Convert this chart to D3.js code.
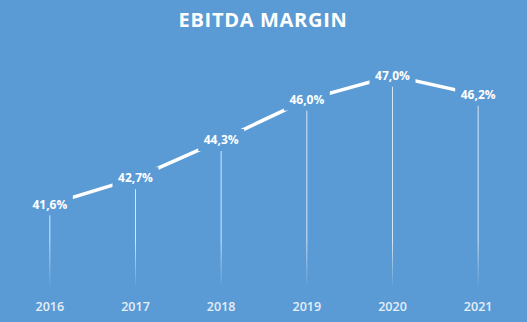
<!DOCTYPE html>
<html><head><meta charset="utf-8">
<script src="https://cdn.jsdelivr.net/npm/d3@7"></script>
<style>html,body{margin:0;padding:0;background:#5B9BD5;}svg{display:block;}</style>
</head><body>
<script>
const years = ["2016","2017","2018","2019","2020","2021"];
const margins = [41.6, 42.7, 44.3, 46.0, 47.0, 46.2];
const title = "EBITDA MARGIN";
const yDomain = [38, 48];

const W = 527, H = 322, bg = "#5B9BD5";
const svg = d3.select("body").append("svg").attr("width", W).attr("height", H);
svg.append("rect").attr("width", W).attr("height", H).attr("fill", bg);

const x = d3.scaleBand().domain(years).range([7, 521]);
const y = d3.scaleLinear().domain(yDomain).range([290, 52]);
const cx = d => x(d) + x.bandwidth() / 2;

const defs = svg.append("defs");
const grad = defs.append("linearGradient").attr("id", "fade")
  .attr("gradientUnits", "userSpaceOnUse").attr("x1", 0).attr("x2", 0).attr("y1", 240).attr("y2", 288);
grad.append("stop").attr("offset", 0).attr("stop-color", "#fff").attr("stop-opacity", 0.75);
grad.append("stop").attr("offset", 1).attr("stop-color", "#fff").attr("stop-opacity", 0);

svg.append("text").attr("x", 263).attr("y", 27).attr("text-anchor", "middle")
  .attr("fill", "#fff").attr("font-family", "Open Sans").attr("font-weight", 700)
  .attr("font-size", 20).attr("letter-spacing", 0.7).text(title);

const data = years.map((yr, i) => ({yr, v: margins[i]}));

svg.append("g").selectAll("line").data(data).join("line")
  .attr("x1", d => cx(d.yr)).attr("x2", d => cx(d.yr))
  .attr("y1", d => y(d.v)).attr("y2", 288)
  .attr("stroke", "url(#fade)").attr("stroke-width", 1);

svg.append("path").datum(data)
  .attr("d", d3.line().x(d => cx(d.yr)).y(d => y(d.v)))
  .attr("fill", "none").attr("stroke", "#fff").attr("stroke-width", 3.5);

const fmt = v => v.toFixed(1).replace(".", ",") + "%";
const lab = svg.append("g").selectAll("g").data(data).join("g")
  .attr("transform", d => `translate(${cx(d.yr)},${y(d.v)})`);
lab.append("rect").attr("x", -23).attr("y", -11).attr("width", 46).attr("height", 22).attr("fill", bg);
lab.append("text").attr("text-anchor", "middle").attr("dy", "0.36em")
  .attr("fill", "#fff").attr("font-family", "Open Sans").attr("font-weight", 700)
  .attr("font-size", 12).text(d => fmt(d.v));

const xAxis = svg.append("g").attr("transform", "translate(0,290)")
  .call(d3.axisBottom(x).tickSize(0).tickPadding(12));
xAxis.select(".domain").remove();
xAxis.selectAll("text").attr("fill", "#e6eef8").attr("font-family", "Open Sans")
  .attr("font-weight", 600).attr("font-size", 12.5);
</script>
</body></html>
